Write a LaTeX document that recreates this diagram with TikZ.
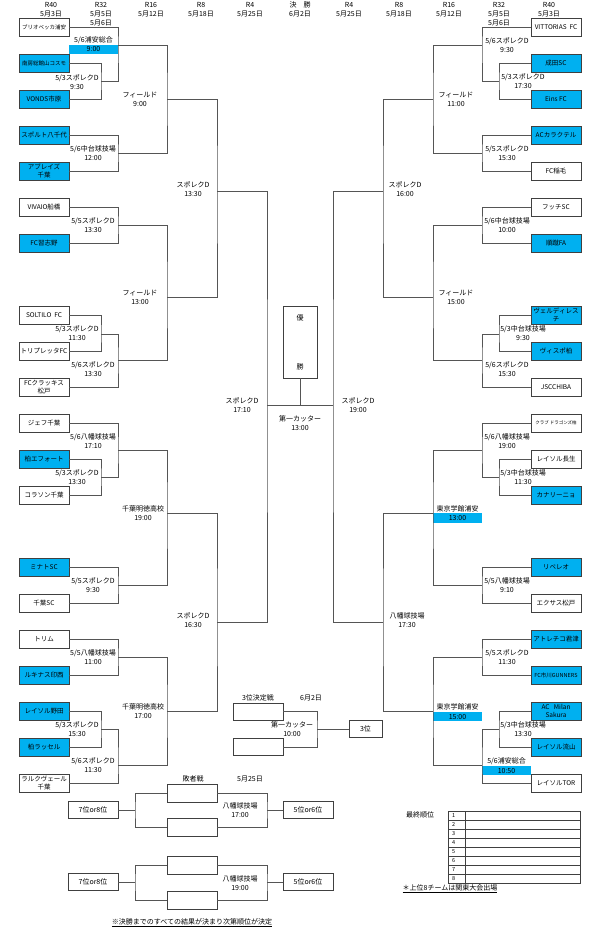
\documentclass[tikz,border=0pt]{standalone}
\usepackage{fontspec}
\setmainfont{Noto Sans CJK JP}
\usepackage{xcolor}
\usepackage{tikz}
\usetikzlibrary{positioning,calc}
\definecolor{teamblue}{RGB}{0,176,240}
\definecolor{linegray}{RGB}{85,85,85}

\begin{document}
\begin{tikzpicture}[x=1pt, y=-1pt, font=\fontsize{7}{9}\selectfont,
        team/.style={rectangle, draw=black!75, minimum width=50pt, minimum height=18pt, inner sep=0pt, align=center, font=\fontsize{6.5}{7.5}\selectfont},
        bteam/.style={team, fill=teamblue},
        blank/.style={rectangle, draw=black!75, minimum width=50pt, minimum height=18pt, inner sep=0pt},
        ln/.style={draw=linegray, line width=0.8pt},
        lbl/.style={align=center, inner sep=0pt},
        hl/.style={rectangle, fill=teamblue, minimum width=49pt, minimum height=9.5pt, inner sep=0pt}]
        \useasboundingbox (0,0) rectangle (592,931);

        % headers
        \node[lbl] (h40l) at (51,9.5) {R40\\5月3日};
        \node[lbl] (h32l) at (101,14) {R32\\5月5日\\5月6日};
        \node[lbl] (h16l) at (151,9.5) {R16\\5月12日};
        \node[lbl] (h8l) at (201,9.5) {R8\\5月18日};
        \node[lbl] (h4l) at (250,9.5) {R4\\5月25日};
        \node[lbl] (hfin) at (300,9.5) {決　勝\\6月2日};
        \node[lbl] (h4r) at (349,9.5) {R4\\5月25日};
        \node[lbl] (h8r) at (399,9.5) {R8\\5月18日};
        \node[lbl] (h16r) at (449,9.5) {R16\\5月12日};
        \node[lbl] (h32r) at (499,14) {R32\\5月5日\\5月6日};
        \node[lbl] (h40r) at (549,9.5) {R40\\5月3日};

        % left teams
        \node[team, font=\fontsize{5.5}{7}\selectfont] (l1) at (44,27) {ブリオベッカ浦安};
        \node[bteam, font=\fontsize{5.5}{7}\selectfont] (l2) at (44,63) {南房総館山コスモ};
        \node[bteam] (l3) at (44,99) {VONDS市原};
        \node[bteam] (l4) at (44,135) {スポルト八千代};
        \node[bteam] (l5) at (44,171) {アブレイズ\\千葉};
        \node[team] (l6) at (44,207) {VIVAIO船橋};
        \node[bteam] (l7) at (44,243) {FC習志野};
        \node[team] (l8) at (44,315) {SOLTILO\ \ FC};
        \node[team] (l9) at (44,351) {トリプレッタFC};
        \node[team] (l10) at (44,387) {FCクラッキス\\松戸};
        \node[team] (l11) at (44,423) {ジェフ千葉};
        \node[bteam] (l12) at (44,459) {柏エフォート};
        \node[team] (l13) at (44,495) {コラソン千葉};
        \node[bteam] (l14) at (44,567) {ミナトSC};
        \node[team] (l15) at (44,603) {千葉SC};
        \node[team] (l16) at (44,639) {トリム};
        \node[bteam] (l17) at (44,675) {ルキナス印西};
        \node[bteam] (l18) at (44,711) {レイソル野田};
        \node[bteam] (l19) at (44,747) {柏ラッセル};
        \node[team] (l20) at (44,783) {ラルクヴェール\\千葉};

        % right teams
        \node[team] (r1) at (556,27) {VITTORIAS\ \ FC};
        \node[bteam] (r2) at (556,63) {成田SC};
        \node[bteam] (r3) at (556,99) {Eins FC};
        \node[bteam] (r4) at (556,135) {ACカラクテル};
        \node[team] (r5) at (556,171) {FC稲毛};
        \node[team] (r6) at (556,207) {フッチSC};
        \node[bteam] (r7) at (556,243) {順蹴FA};
        \node[bteam] (r8) at (556,315) {ヴェルディレス\\チ};
        \node[bteam] (r9) at (556,351) {ヴィスポ柏};
        \node[team] (r10) at (556,387) {JSCCHIBA};
        \node[team, font=\fontsize{4.5}{6}\selectfont] (r11) at (556,423) {クラブ ドラゴンズ柏};
        \node[team] (r12) at (556,459) {レイソル長生};
        \node[bteam] (r13) at (556,495) {カナリーニョ};
        \node[bteam] (r14) at (556,567) {リベレオ};
        \node[team] (r15) at (556,603) {エクサス松戸};
        \node[bteam] (r16) at (556,639) {アトレチコ君津};
        \node[bteam, font=\fontsize{5.5}{7}\selectfont] (r17) at (556,675) {FC市川GUNNERS};
        \node[bteam] (r18) at (556,711) {AC\ \ \ Milan\\Sakura};
        \node[bteam] (r19) at (556,747) {レイソル流山};
        \node[team] (r20) at (556,783) {レイソルTOR};

        % left bracket
        \coordinate (ma) at (101,81);
        \coordinate (mb) at (118,45);
        \coordinate (mc) at (118,153);
        \coordinate (md) at (167,99);
        \coordinate (me) at (118,225);
        \coordinate (mf) at (101,334);
        \coordinate (mg) at (118,360);
        \coordinate (mh) at (167,297);
        \coordinate (mi) at (217,191);
        \coordinate (mj) at (101,477);
        \coordinate (mk) at (118,450);
        \coordinate (ml) at (118,585);
        \coordinate (mm) at (167,513);
        \coordinate (mn) at (118,657);
        \coordinate (mo) at (101,729);
        \coordinate (mp) at (118,765);
        \coordinate (mq) at (167,711);
        \coordinate (mr) at (217,622);
        \coordinate (ms) at (267,405);

        % right bracket
        \coordinate (na) at (499,81);
        \coordinate (nb) at (482,45);
        \coordinate (nc) at (482,153);
        \coordinate (nd) at (433,99);
        \coordinate (ne) at (482,225);
        \coordinate (nf) at (499,334);
        \coordinate (ng) at (482,360);
        \coordinate (nh) at (433,297);
        \coordinate (ni) at (383,191);
        \coordinate (nj) at (499,477);
        \coordinate (nk) at (482,450);
        \coordinate (nl) at (482,585);
        \coordinate (nm) at (433,513);
        \coordinate (nn) at (482,657);
        \coordinate (no) at (499,729);
        \coordinate (np) at (482,765);
        \coordinate (nq) at (433,711);
        \coordinate (nr) at (383,622);
        \coordinate (ns) at (333,405);

        % highlighted venues
        \node[hl] (hla) at (93.5,49.5) {9:00};
        \node[lbl, above=1pt of hla] (hlat) {5/6浦安総合};
        \node[hl] (hlb) at (457.5,518) {13:00};
        \node[lbl, above=1pt of hlb] (hlbt) {東京学館浦安};
        \node[hl] (hlc) at (457.5,716.5) {15:00};
        \node[lbl, above=1pt of hlc] (hlct) {東京学館浦安};
        \node[hl] (hld) at (506.5,770.5) {10:50};
        \node[lbl, above=1pt of hld] (hldt) {5/6浦安総合};

        \draw[ln] (l2.east) -| (ma) |- (l3.east);
        \draw[ln] (l1.east) -| (mb) |- (ma);
        \draw[ln] (l4.east) -| (mc) |- (l5.east);
        \draw[ln] (mb) -| (md) |- (mc);
        \draw[ln] (l6.east) -| (me) |- (l7.east);
        \draw[ln] (l8.east) -| (mf) |- (l9.east);
        \draw[ln] (mf) -| (mg) |- (l10.east);
        \draw[ln] (me) -| (mh) |- (mg);
        \draw[ln] (md) -| (mi) |- (mh);
        \draw[ln] (l12.east) -| (mj) |- (l13.east);
        \draw[ln] (l11.east) -| (mk) |- (mj);
        \draw[ln] (l14.east) -| (ml) |- (l15.east);
        \draw[ln] (mk) -| (mm) |- (ml);
        \draw[ln] (l16.east) -| (mn) |- (l17.east);
        \draw[ln] (l18.east) -| (mo) |- (l19.east);
        \draw[ln] (mo) -| (mp) |- (l20.east);
        \draw[ln] (mn) -| (mq) |- (mp);
        \draw[ln] (mm) -| (mr) |- (mq);
        \draw[ln] (mi) -| (ms) |- (mr);

        \draw[ln] (r2.west) -| (na) |- (r3.west);
        \draw[ln] (r1.west) -| (nb) |- (na);
        \draw[ln] (r4.west) -| (nc) |- (r5.west);
        \draw[ln] (nb) -| (nd) |- (nc);
        \draw[ln] (r6.west) -| (ne) |- (r7.west);
        \draw[ln] (r8.west) -| (nf) |- (r9.west);
        \draw[ln] (nf) -| (ng) |- (r10.west);
        \draw[ln] (ne) -| (nh) |- (ng);
        \draw[ln] (nd) -| (ni) |- (nh);
        \draw[ln] (r12.west) -| (nj) |- (r13.west);
        \draw[ln] (r11.west) -| (nk) |- (nj);
        \draw[ln] (r14.west) -| (nl) |- (r15.west);
        \draw[ln] (nk) -| (nm) |- (nl);
        \draw[ln] (r16.west) -| (nn) |- (r17.west);
        \draw[ln] (r18.west) -| (no) |- (r19.west);
        \draw[ln] (no) -| (np) |- (r20.west);
        \draw[ln] (nn) -| (nq) |- (np);
        \draw[ln] (nm) -| (nr) |- (nq);
        \draw[ln] (ni) -| (ns) |- (nr);

        % final
        \node[rectangle, draw=black!75, minimum width=34pt, minimum height=72pt, align=center, inner sep=0pt] (champ) at (300,342) {優\\[40pt]勝};
        \coordinate (fin) at ($(ms)!0.5!(ns)$);
        \draw[ln] (ms) -- (ns);
        \draw[ln] (champ.south) -- (fin);
        \node[lbl] (vfin) at (300,423.5) {第一カッター\\13:00};

        % venues left
        \node[lbl] at (77,82) {5/3スポレクD\\9:30};
        \node[lbl] at (140,99.5) {フィールド\\9:00};
        \node[lbl] at (93,153.5) {5/6中台球技場\\12:00};
        \node[lbl] at (193,189.5) {スポレクD\\13:30};
        \node[lbl] at (93,225.5) {5/5スポレクD\\13:30};
        \node[lbl] at (140,297.5) {フィールド\\13:00};
        \node[lbl] at (77,333.5) {5/3スポレクD\\11:30};
        \node[lbl] at (93,369.5) {5/6スポレクD\\13:30};
        \node[lbl] at (242,405.5) {スポレクD\\17:10};
        \node[lbl] at (93,441.5) {5/6八幡球技場\\17:10};
        \node[lbl] at (77,477.5) {5/3スポレクD\\13:30};
        \node[lbl] at (143,513.5) {千葉明徳高校\\19:00};
        \node[lbl] at (93,585.5) {5/5スポレクD\\9:30};
        \node[lbl] at (193,620.5) {スポレクD\\16:30};
        \node[lbl] at (93,657.5) {5/5八幡球技場\\11:00};
        \node[lbl] at (143,711.5) {千葉明徳高校\\17:00};
        \node[lbl] at (77,729.5) {5/3スポレクD\\15:30};
        \node[lbl] at (93,765.5) {5/6スポレクD\\11:30};

        % venues right
        \node[lbl] at (507,45.5) {5/6スポレクD\\9:30};
        \node[lbl] at (523,81.5) {5/3スポレクD\\17:30};
        \node[lbl] at (456,99.5) {フィールド\\11:00};
        \node[lbl] at (507,153.5) {5/5スポレクD\\15:30};
        \node[lbl] at (405,189.5) {スポレクD\\16:00};
        \node[lbl] at (507,225.5) {5/6中台球技場\\10:00};
        \node[lbl] at (456,297.5) {フィールド\\15:00};
        \node[lbl] at (523,333.5) {5/3中台球技場\\9:30};
        \node[lbl] at (507,369.5) {5/6スポレクD\\15:30};
        \node[lbl] at (358,405.5) {スポレクD\\19:00};
        \node[lbl] at (507,441.5) {5/6八幡球技場\\19:00};
        \node[lbl] at (523,477.5) {5/3中台球技場\\11:30};
        \node[lbl] at (507,585.5) {5/5八幡球技場\\9:10};
        \node[lbl] at (407,620.5) {八幡球技場\\17:30};
        \node[lbl] at (507,657.5) {5/5スポレクD\\11:30};
        \node[lbl] at (523,729.5) {5/3中台球技場\\13:30};

        % 3rd place
        \node[blank, minimum height=17pt] (th1) at (258,711.5) {};
        \node[blank, minimum height=17pt] (th2) at (258,747) {};
        \node[blank, minimum width=33pt, minimum height=17pt] (third) at (365.5,729) {3位};
        \coordinate (m3) at (317,729);
        \draw[ln] (th1.east) -| (m3) |- (th2.east);
        \draw[ln] (m3) -- (third.west);
        \node[lbl] at (258,698) {3位決定戦};
        \node[lbl] at (311,698) {6月2日};
        \node[lbl] at (292,729.5) {第一カッター\\10:00};

        % consolation
        \node[lbl] at (193,779) {敗者戦};
        \node[lbl] at (250,779) {5月25日};
        \node[blank] (c1) at (192,793) {};
        \node[blank] (c2) at (192,827) {};
        \node[blank] (c3) at (192,865) {};
        \node[blank] (c4) at (192,900) {};
        \node[blank, minimum height=17pt] (p7a) at (93,810) {7位or8位};
        \node[blank, minimum height=17pt] (p5a) at (308,810) {5位or6位};
        \node[blank, minimum height=17pt] (p7b) at (93,882) {7位or8位};
        \node[blank, minimum height=17pt] (p5b) at (308,882) {5位or6位};
        \coordinate (q1) at (135,810);
        \coordinate (q2) at (267,810);
        \coordinate (q3) at (135,882);
        \coordinate (q4) at (267,882);
        \draw[ln] (c1.west) -| (q1) |- (c2.west);
        \draw[ln] (c1.east) -| (q2) |- (c2.east);
        \draw[ln] (c3.west) -| (q3) |- (c4.west);
        \draw[ln] (c3.east) -| (q4) |- (c4.east);
        \draw[ln] (p7a) -- (q1);
        \draw[ln] (q2) -- (p5a);
        \draw[ln] (p7b) -- (q3);
        \draw[ln] (q4) -- (p5b);
        \node[lbl] at (240,810.5) {八幡球技場\\17:00};
        \node[lbl] at (240,883.5) {八幡球技場\\19:00};

        % final ranking
        \node[lbl] at (420,815) {最終順位};
        \draw[draw=black!75, line width=0.6pt] (448,811) rectangle (580,883);
        \draw[draw=black!75, line width=0.6pt] (465,811) -- (465,883);
        \foreach \i in {1,...,7}
          \draw[draw=black!75, line width=0.6pt] (448,{811+9*\i}) -- (580,{811+9*\i});
        \foreach \i in {1,...,8}
          \node[anchor=west, inner sep=0pt, font=\fontsize{5.5}{6}\selectfont] at (452,{806.5+9*\i}) {\i};
        \node[lbl] at (450,889) {\underline{＊上位8チームは関東大会出場}};
        \node[lbl] at (192,923) {\underline{※決勝までのすべての結果が決まり次第順位が決定}};
      \end{tikzpicture}
\end{document}
